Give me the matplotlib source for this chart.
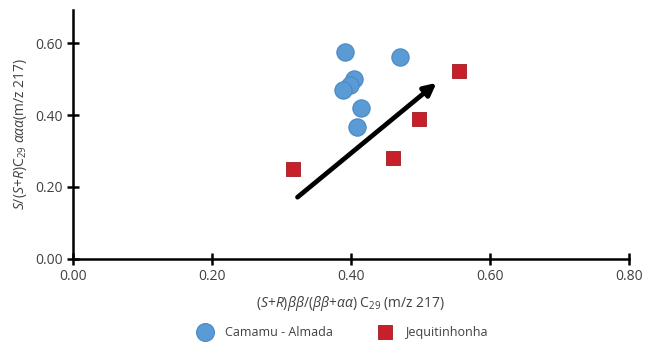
import numpy as np
import matplotlib
matplotlib.use("Agg")
import matplotlib.pyplot as plt

plt.rcParams["font.family"] = ["Open Sans", "DejaVu Sans"]
plt.rcParams["mathtext.fontset"] = "custom"
plt.rcParams["mathtext.rm"] = "Open Sans"
plt.rcParams["mathtext.it"] = "Open Sans:italic"

# Camamu - Almada samples
camamu_x = [0.391, 0.470, 0.404, 0.399, 0.388, 0.414, 0.409]
camamu_y = [0.577, 0.563, 0.500, 0.484, 0.469, 0.420, 0.367]
# Jequitinhonha samples
jequi_x = [0.316, 0.460, 0.498, 0.555]
jequi_y = [0.250, 0.279, 0.389, 0.524]
# trend arrow
arrow_start = (0.323, 0.171)
arrow_end = (0.523, 0.490)

xticks = [0.0, 0.2, 0.4, 0.6, 0.8]
yticks = [0.0, 0.2, 0.4, 0.6]

fig = plt.figure(figsize=(6.45, 3.47), dpi=100)
ax = fig.add_axes([0.1132, 0.255, 0.862, 0.716])

ax.scatter(camamu_x, camamu_y, s=155, color="#5B9BD5", edgecolor="#4A88C2",
           linewidth=0.8, zorder=3, label="Camamu - Almada")
ax.scatter(jequi_x, jequi_y, s=95, marker="s", color="#C8202A",
           edgecolor="#9E1A20", linewidth=0.6, zorder=3, label="Jequitinhonha")

ax.annotate("", xy=arrow_end, xytext=arrow_start,
            arrowprops=dict(arrowstyle="-|>", color="black", lw=3.4,
                            mutation_scale=18, shrinkA=0, shrinkB=0),
            zorder=2)

ax.set_xlim(0, 0.8)
ax.set_ylim(0, 0.693)
ax.set_xticks(xticks)
ax.set_yticks(yticks)
ax.set_xticklabels([f"{v:.2f}" for v in xticks])
ax.set_yticklabels([f"{v:.2f}" for v in yticks])
for s in ["top", "right"]:
    ax.spines[s].set_visible(False)
for s in ["left", "bottom"]:
    ax.spines[s].set_linewidth(1.8)
ax.tick_params(direction="inout", length=9, width=1.8, labelsize=10,
               labelcolor="#404040", pad=3)

ax.set_xlabel(r"$(S$+$R)\beta\beta/(\beta\beta$+$\alpha\alpha)$ C$_{29}$ (m/z 217)",
              fontsize=10, color="#404040", labelpad=7)
ax.set_ylabel(r"$S/(S$+$R)$C$_{29}$ $\alpha\alpha\alpha$(m/z 217)",
              fontsize=10, color="#404040", labelpad=4)

leg = fig.legend(loc="lower center", bbox_to_anchor=(0.527, -0.008), ncol=2,
                 frameon=False, fontsize=9, labelcolor="#404040",
                 columnspacing=3.2, handletextpad=0.6)
leg.legend_handles[0].set_sizes([165])
leg.legend_handles[1].set_sizes([105])

fig.savefig("out.png", dpi=100)
